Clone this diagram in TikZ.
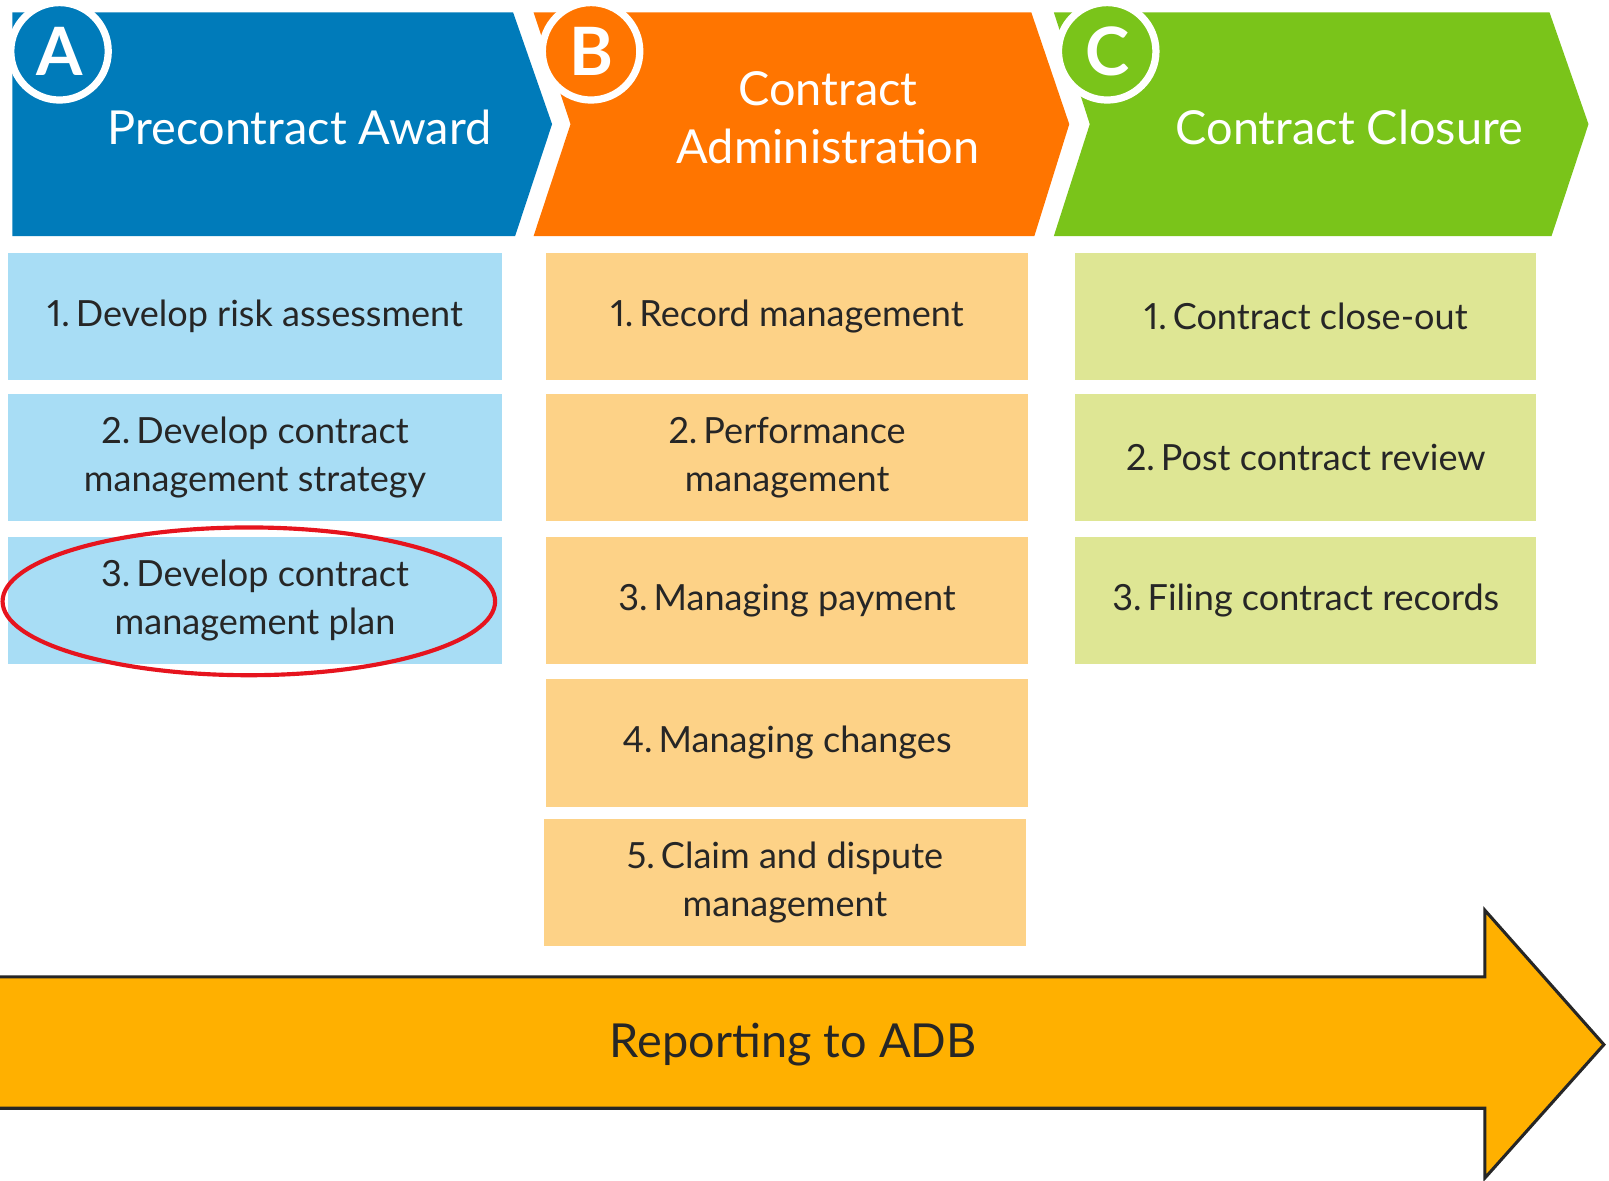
\documentclass[tikz,border=0pt]{standalone}
\usepackage{fontspec}
\setmainfont{Lato}[Numbers=Proportional]
\definecolor{hblue}{HTML}{007BBA}
\definecolor{horange}{HTML}{FF7500}
\definecolor{hgreen}{HTML}{7AC41A}
\definecolor{lblue}{HTML}{A8DDF5}
\definecolor{lorange}{HTML}{FDD287}
\definecolor{lgreen}{HTML}{DEE694}
\definecolor{arrowfill}{HTML}{FFB000}
\definecolor{redring}{HTML}{E6141E}
\definecolor{txt}{HTML}{262626}
\newcommand\itemno[1]{#1.\kern-0.09em\ }
\tikzset{
  cell/.style={inner sep=0pt, minimum height=2.48cm, align=center, text=txt,
    font=\fontsize{20}{26.6}\selectfont},
  cellA/.style={cell, fill=lblue, minimum width=9.62cm},
  cellB/.style={cell, fill=lorange, minimum width=9.4cm},
  cellC/.style={cell, fill=lgreen, minimum width=8.98cm},
  head/.style={text=white, align=center, font=\fontsize{26}{32}\selectfont},
  badge/.style={circle, draw=white, line width=4pt, minimum size=1.9cm, inner sep=0pt,
    text=white, font=\fontsize{37}{40}\selectfont\bfseries},
}
\begin{document}
\begin{tikzpicture}[x=0.02cm, y=-0.02cm]
\clip (0,0) rectangle (1568,1150);
\fill[white] (0,0) rectangle (1568,1150);
% header chevrons
\fill[hblue] (12,12) -- (500,12) -- (538,121) -- (502,230) -- (12,230) -- cycle;
\fill[horange] (520,12) -- (1005,12) -- (1042,121) -- (1008,230) -- (520,230) -- (556,121) -- cycle;
\fill[hgreen] (1027,12) -- (1510,12) -- (1548,121) -- (1512,230) -- (1027,230) -- (1062,121) -- cycle;
\node[head] (hA) at (292,124) {Precontract Award};
\node[head] (hB) at (807,115) {Contract\\Administration};
\node[head] (hC) at (1315,124) {Contract Closure};
\node[badge, fill=hblue] (bA) at (58,50) {A};
\node[badge, fill=horange] (bB) at (576,50) {B};
\node[badge, fill=hgreen] (bC) at (1079,50) {C};
% column A
\node[cellA] (a1) at (248.5,308.5) {\itemno{1}Develop risk assessment};
\node[cellA] (a2) at (248.5,446) {\itemno{2}Develop contract\\management strategy};
\node[cellA] (a3) at (248.5,585) {\itemno{3}Develop contract\\management plan};
% column B
\node[cellB] (b1) at (767,308.5) {\itemno{1}Record management};
\node[cellB] (b2) at (767,446) {\itemno{2}Performance\\management};
\node[cellB] (b3) at (767,585) {\itemno{3}Managing payment};
\node[cellB] (b4) at (767,724) {\itemno{4}Managing changes};
\node[cellB] (b5) at (765,860) {\itemno{5}Claim and dispute\\management};
% column C
\node[cellC] (c1) at (1272.5,308.5) {\itemno{1}Contract close-out};
\node[cellC] (c2) at (1272.5,446) {\itemno{2}Post contract review};
\node[cellC] (c3) at (1272.5,585) {\itemno{3}Filing contract records};
% red highlight
\draw[redring, line width=2.3pt] (a3.center) ++(-6,1) ellipse [x radius=240, y radius=72];
% reporting arrow
\draw[fill=arrowfill, draw=txt, line width=1.7pt, line join=miter]
  (-10,952) -- (1447,952) -- (1447,887) -- (1563,1018) -- (1447,1148) -- (1447,1080) -- (-10,1080) -- cycle;
\node[text=txt, font=\fontsize{26}{30}\selectfont] (rep) at (773,1018) {Reporting to ADB};
\end{tikzpicture}
\end{document}
